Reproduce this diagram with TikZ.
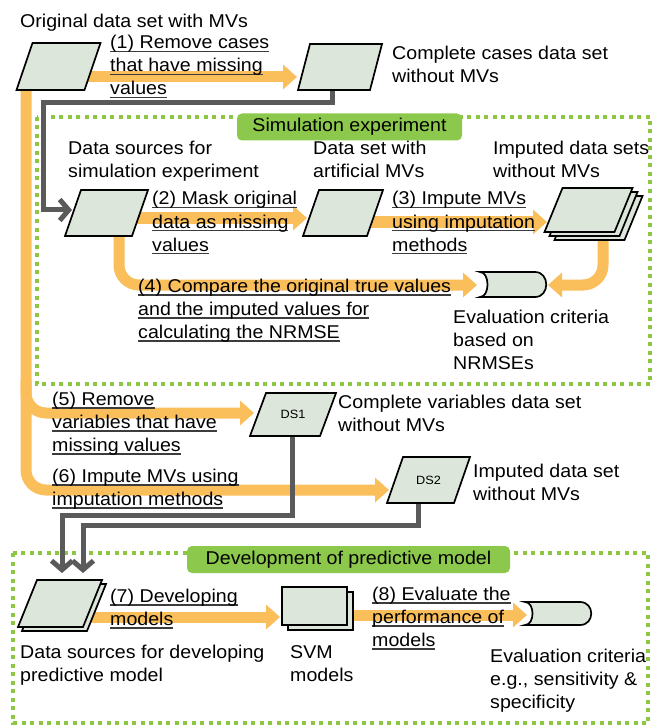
\documentclass[tikz,border=0pt]{standalone}
\usepackage{fontspec}
\setmainfont{Liberation Sans}[FakeStretch=1.06]
\usetikzlibrary{arrows.meta,calc}
\definecolor{orng}{HTML}{FABE5A}
\definecolor{grn}{HTML}{8DC641}
\definecolor{grnfill}{HTML}{8CC84B}
\definecolor{shp}{HTML}{DCE6DA}
\definecolor{gry}{HTML}{5A5A5A}
\definecolor{ulc}{HTML}{3C3C3C}
\newcommand\ulx[1]{\setbox0\hbox{#1}\rlap{\textcolor{ulc}{\rule[-3.5pt]{\wd0}{1.2pt}}}\box0}
\newcommand\TL[1]{\hbox{#1}}
\newcommand\UL[1]{\hbox{\ulx{#1}}}
\tikzset{
  txt/.style={anchor=base west, inner sep=0pt, font=\fontsize{18.5}{23}\selectfont},
  shapebox/.style={fill=shp, draw=black, line width=1.7pt, line join=miter},
  oarr/.style={draw=orng, line width=11pt, -{Triangle[length=14pt,width=24pt]}},
  garr/.style={draw=gry, line width=5pt, -{Straight Barb[length=9pt,width=21pt]}},
  gline/.style={draw=gry, line width=5pt},
  frame/.style={draw=grn, line width=4.5pt, dash pattern=on 4pt off 4.5pt},
  lab/.style={fill=grnfill, rounded corners=5pt, inner sep=0pt, font=\fontsize{18.5}{23}\selectfont},
}
% name, cx, cy, w, h, slant, label
\newcommand\pgram[7]{%
  \draw[shapebox] ({#2-#4/2-#6/2},{#3+#5/2}) -- ({#2+#4/2-#6/2},{#3+#5/2}) -- ({#2+#4/2+#6/2},{#3-#5/2}) -- ({#2-#4/2+#6/2},{#3-#5/2}) -- cycle;
  \node[inner sep=0pt, minimum width={#4}, minimum height={#5}, font=\fontsize{12}{14}\selectfont] (#1) at (#2,#3) {#7};}
% name, x1, y1, x2, y2 (storage shape)
\newcommand\store[5]{%
  \draw[shapebox] (#2,#3) -- ({#4-12},#3) .. controls ({#4+3},#3) and ({#4+3},#5) .. ({#4-12},#5) -- (#2,#5) .. controls ({#2+10},#5) and ({#2+10},#3) .. (#2,#3) -- cycle;
  \node[inner sep=0pt, minimum width={#4-#2}, minimum height={#5-#3}] (#1) at ({(#2+#4)/2},{(#3+#5)/2}) {};}
\begin{document}
\begin{tikzpicture}[x=1pt,y=-1pt]
\useasboundingbox (0,0) rectangle (661,727);
% frames
\draw[frame] (37,117) rectangle (650,384);
\draw[frame] (13,553) rectangle (648,723);
\node[lab, minimum width=225, minimum height=27] (simlab) at (349.5,127) {Simulation experiment};
\node[lab, minimum width=323, minimum height=27] (devlab) at (348.5,559.5) {Development of predictive model};
% coordinates for connector ends
\coordinate (a1s) at (88,77);   \coordinate (a1e) at (297,77);
\coordinate (trk) at (26,85);   \coordinate (trk5) at (26,380);
\coordinate (a6e) at (389,490); \coordinate (a5e) at (254,413);
\coordinate (a2s) at (130,218); \coordinate (a2e) at (307,218);
\coordinate (a3s) at (370,222); \coordinate (a3e) at (547,222);
\coordinate (a4rs) at (603,225); \coordinate (a4re) at (548,285);
\coordinate (a4ls) at (119,230); \coordinate (a4le) at (477,285);
\coordinate (a7s) at (85,617);  \coordinate (a7e) at (280,617);
\coordinate (a8s) at (345,615); \coordinate (a8e) at (527,615);
% orange arrows
\draw[oarr] (a1s) -- (a1e);
\draw[oarr, rounded corners=20pt] (trk) -- (26,490) -- (a6e);
\draw[oarr, rounded corners=20pt] (trk5) -- (26,413) -- (a5e);
\draw[oarr] (a2s) -- (a2e);
\draw[oarr] (a3s) -- (a3e);
\draw[oarr, rounded corners=20pt] (a4rs) |- (a4re);
\draw[oarr, rounded corners=20pt] (a4ls) |- (a4le);
\draw[oarr] (a7s) -- (a7e);
\draw[oarr] (a8s) -- (a8e);
% gray connectors
\coordinate (g1s) at (332,88);  \coordinate (g1e) at (72,210);
\coordinate (g2s) at (292,430); \coordinate (g2e) at (62,573);
\coordinate (g3s) at (418,498); \coordinate (g3e) at (83,573);
\draw[garr] (g1s) -- (332,103) -- (43,103) -- (43,210) -- (g1e);
\draw[garr] (g2s) -- (292,515) -- (62,515) -- (g2e);
\draw[garr] (g3s) -- (418,525) -- (83,525) -- (g3e);
% shapes
\pgram{p0}{58.5}{66.5}{68}{47}{16}{}
\pgram{p1}{340}{67}{72}{46}{12}{}
\pgram{p2}{106.5}{213}{67}{46}{16}{}
\pgram{p3}{343}{213}{64}{46}{16}{}
\pgram{p4c}{598.5}{218}{70}{44}{18}{}
\pgram{p4b}{593.5}{214}{70}{44}{18}{}
\pgram{p4}{588.5}{210}{70}{44}{18}{}
\pgram{ds1}{293}{414.5}{70}{43}{16}{DS1}
\pgram{ds2}{428.5}{480}{67}{46}{16}{DS2}
\pgram{p5b}{64}{607.5}{65}{47}{19}{}
\pgram{p5}{60}{603.5}{65}{47}{19}{}
\draw[shapebox] (288,592) rectangle (353,630);
\node[inner sep=0pt, minimum width=65, minimum height=38] (svmb) at (320.5,611) {};
\draw[shapebox] (282,587) rectangle (347,625);
\node[inner sep=0pt, minimum width=65, minimum height=38] (svm) at (314.5,606) {};
\store{ev1}{480}{272}{547}{297}
\store{ev2}{525}{602}{592}{625}
% texts
\node[txt] (t0) at (20,28) {Original data set with MVs};
\node[txt] (t1) at (110,49) {\vtop{\UL{(1) Remove cases}\UL{that have missing}\UL{values}}};
\node[txt] (t2) at (392,60) {\vtop{\TL{Complete cases data set}\TL{without MVs}}};
\node[txt] (t3) at (68,155) {\vtop{\TL{Data sources for}\TL{simulation experiment}}};
\node[txt] (t4) at (152,205) {\vtop{\UL{(2) Mask original}\UL{data as missing}\UL{values}}};
\node[txt] (t5) at (313,155) {\vtop{\TL{Data set with}\TL{artificial MVs}}};
\node[txt] (t6) at (392,205) {\vtop{\UL{(3) Impute MVs}\UL{using imputation}\UL{methods}}};
\node[txt] (t7) at (493,155) {\vtop{\TL{Imputed data sets}\TL{without MVs}}};
\node[txt] (t8) at (138,292) {\vtop{\UL{(4) Compare the original true values}\UL{and the imputed values for}\UL{calculating the NRMSE}}};
\node[txt] (t9) at (453,323) {\vtop{\TL{Evaluation criteria}\TL{based on}\TL{NRMSEs}}};
\node[txt] (t10) at (52,405) {\vtop{\UL{(5) Remove}\UL{variables that have}\UL{missing values}}};
\node[txt] (t11) at (338,408) {\vtop{\TL{Complete variables data set}\TL{without MVs}}};
\node[txt] (t12) at (52,482) {\vtop{\UL{(6) Impute MVs using}\UL{imputation methods}}};
\node[txt] (t13) at (473,477) {\vtop{\TL{Imputed data set}\TL{without MVs}}};
\node[txt] (t14) at (110,602) {\vtop{\UL{(7) Developing}\UL{models}}};
\node[txt] (t15) at (20,658) {\vtop{\TL{Data sources for developing}\TL{predictive model}}};
\node[txt] (t16) at (290,658) {\vtop{\TL{SVM}\TL{models}}};
\node[txt] (t17) at (372,600) {\vtop{\UL{(8) Evaluate the}\UL{performance of}\UL{models}}};
\node[txt] (t18) at (490,662) {\vtop{\TL{Evaluation criteria}\TL{e.g., sensitivity \&}\TL{specificity}}};
\end{tikzpicture}
\end{document}
